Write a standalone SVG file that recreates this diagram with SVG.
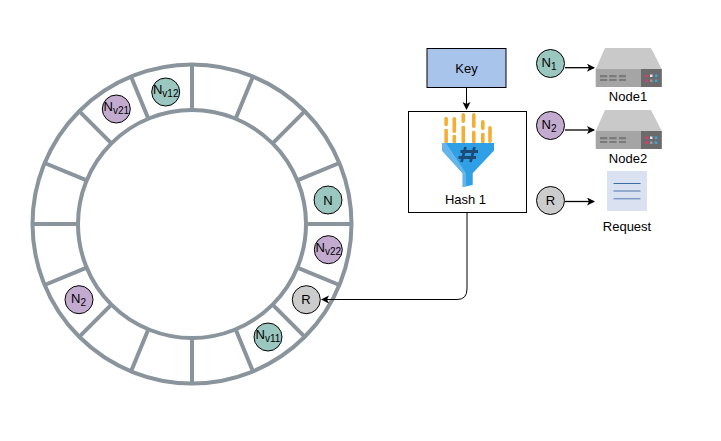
<svg xmlns="http://www.w3.org/2000/svg" width="721" height="441" viewBox="0 0 721 441">
<style>
text{font-family:"Liberation Sans",Arial,sans-serif;font-size:13px;fill:#000;text-anchor:middle}
.sub{font-size:10px}
.ring{fill:none;stroke:#8a949c;stroke-width:4}
.c{stroke:#000;stroke-width:1}
.teal{fill:#9ac7bf}.pur{fill:#c3abd0}.gr{fill:#cccccc}
.ln{fill:none;stroke:#000;stroke-width:1}
.thick{stroke-width:1.300}
.bar{fill:#f4ae33}
</style>
<defs>
<marker id="a" markerWidth="10" markerHeight="10" refX="7" refY="4" orient="auto" markerUnits="userSpaceOnUse"><path d="M0 0L8 4L0 8L2 4Z" fill="#000"/></marker>
<g id="server">
<path d="M605 48H651L661.700 69H595.700Z" fill="#c9c9c9"/>
<rect x="595.700" y="69" width="66" height="18" fill="#a5a5a5"/>
<rect x="641" y="69" width="20.700" height="18" fill="#6b6b6b"/>
<g fill="#7a7a7a"><rect x="600" y="75" width="7.300" height="2.300"/><rect x="609.300" y="75" width="7.300" height="2.300"/><rect x="619" y="75" width="7" height="2.300"/><rect x="600" y="79" width="7.300" height="2"/><rect x="609.300" y="79" width="7.300" height="2"/><rect x="619" y="79" width="7" height="2"/></g>
<g fill="#e8336d"><rect x="645.500" y="74.500" width="2.500" height="2.500"/><rect x="645.500" y="79.500" width="2.500" height="2.500"/></g>
<g fill="#35a8e0"><rect x="654.800" y="74.500" width="2.500" height="2.500"/><rect x="654.800" y="79.500" width="2.500" height="2.500"/></g>
<rect x="650" y="74.500" width="2.500" height="2.500" fill="#e6e6e6"/><rect x="650" y="79.500" width="2.500" height="2.500" fill="#9a9a9a"/>
</g>
</defs>
<g id="ring">
<circle class="ring" cx="192" cy="224" r="159.500"/>
<circle class="ring" cx="192" cy="224" r="114"/>
<path class="ring" d="M192 65V110M192 338V383M32.500 224H78M306 224H351.500M253 76.600L235.600 118.700M148.400 329.300L131 371.400M304.800 111.200L272.600 143.400M111.400 304.600L79.200 336.800M339.400 163L297.300 180.400M86.700 267.600L44.600 285M339.400 285L297.300 267.600M86.700 180.400L44.600 163M304.800 336.800L272.600 304.600M111.400 143.400L79.200 111.200M253 371.400L235.600 329.300M148.400 118.700L131 76.600"/>
</g>
<g id="connectors">
<path class="ln" d="M466.500 88V109" marker-end="url(#a)"/>
<path class="ln" d="M467 213V289Q467 299.500 457 299.500H322" marker-end="url(#a)"/>
<path class="ln thick" d="M565 67.700H594" marker-end="url(#a)"/>
<path class="ln thick" d="M565 130H594" marker-end="url(#a)"/>
<path class="ln thick" d="M565 201.500H594" marker-end="url(#a)"/>
</g>
<g id="key"><rect x="427" y="48.500" width="79" height="39" fill="#a9c4eb" stroke="#000"/><text x="466.500" y="73">Key</text></g>
<g id="hash">
<rect x="408.500" y="111.500" width="118" height="101" fill="#fff" stroke="#000"/>
<g class="bar">
<rect x="444.300" y="116.700" width="3.600" height="9.500" rx="1.800"/><rect x="444.300" y="129" width="3.600" height="14" rx="1"/>
<rect x="452.500" y="117" width="3.600" height="16" rx="1.800"/><rect x="452.500" y="135" width="3.600" height="8" rx="1"/>
<rect x="461.500" y="113" width="3.600" height="10" rx="1.800"/><rect x="461.500" y="126" width="3.600" height="17" rx="1"/>
<rect x="472" y="113" width="3.600" height="15" rx="1.800"/><rect x="472" y="131" width="3.600" height="12" rx="1"/>
<rect x="481" y="120" width="3.600" height="10" rx="1.800"/><rect x="481" y="133" width="3.600" height="10" rx="1"/>
<rect x="488.200" y="126" width="3.600" height="17" rx="1.800"/>
</g>
<path d="M442 143H494V150.500L472.700 173.300V185L462.700 187V173.300L442 150.500Z" fill="#2f9fe6"/>
<path d="M442 143H446L466 173.300V186.300L462.700 187V173.300L442 150.500Z" fill="#63b6ec"/>
<path d="M465.500 147L461.500 162M474.500 147L470.500 162M460.500 151.500H478M458.500 157.500H476" fill="none" stroke="#1d4b78" stroke-width="2.800"/>
<text x="465.500" y="204">Hash 1</text>
</g>
<g id="n1-legend"><circle class="c teal" cx="550.500" cy="63.500" r="14"/><text x="549" y="67">N<tspan class="sub" dy="3">1</tspan></text></g>
<g id="node1"><use href="#server"/><text x="628" y="101">Node1</text></g>
<g id="n2-legend"><circle class="c pur" cx="550.500" cy="125.500" r="14"/><text x="549" y="129">N<tspan class="sub" dy="3">2</tspan></text></g>
<g id="node2"><use href="#server" y="62"/><text x="628" y="163">Node2</text></g>
<g id="r-legend"><circle class="c gr" cx="550.500" cy="200.500" r="14"/><text x="550.500" y="204.500">R</text></g>
<g id="request">
<rect x="607" y="171" width="40" height="40" fill="#dae1f1"/>
<path d="M613.500 183.500H640.500" stroke="#3f6da6" stroke-width="1"/><path d="M613.500 191H640.500" stroke="#4d76aa" stroke-width="1"/><path d="M613.500 198.700H640.500" stroke="#7f9cc4" stroke-width="1.500"/>
<text x="627" y="231">Request</text>
</g>
<g id="ring-n"><circle class="c teal" cx="328" cy="200" r="14"/><text x="328" y="204.500">N</text></g>
<g id="ring-nv22"><circle class="c pur" cx="328.300" cy="249.700" r="14"/><text x="328.300" y="252">N<tspan class="sub" dy="3">v22</tspan></text></g>
<g id="ring-r"><circle class="c gr" cx="306.300" cy="299.700" r="14"/><text x="306" y="304">R</text></g>
<g id="ring-nv11"><circle class="c teal" cx="268" cy="337" r="14"/><text x="268" y="339">N<tspan class="sub" dy="3">v11</tspan></text></g>
<g id="ring-n2"><circle class="c pur" cx="79" cy="299.700" r="14"/><text x="78.500" y="303">N<tspan class="sub" dy="3">2</tspan></text></g>
<g id="ring-nv21"><circle class="c pur" cx="116.300" cy="109" r="14"/><text x="116.300" y="111">N<tspan class="sub" dy="3">v21</tspan></text></g>
<g id="ring-nv12"><circle class="c teal" cx="165.700" cy="92" r="14"/><text x="165.700" y="94">N<tspan class="sub" dy="3">v12</tspan></text></g>
</svg>
